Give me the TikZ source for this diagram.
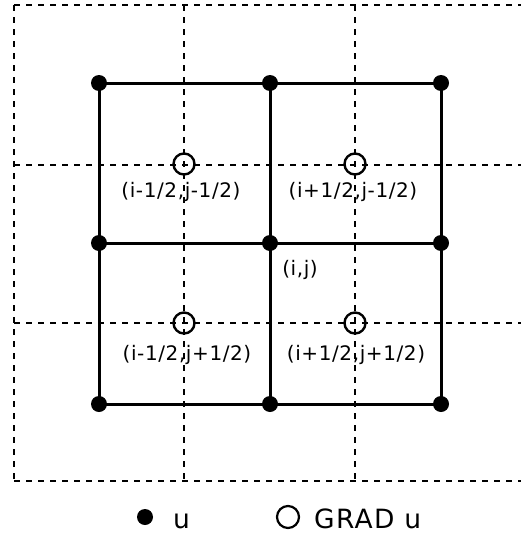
\documentclass[tikz,border=0pt]{standalone}
\usepackage{fontspec}
\newfontfamily\labfont[LetterSpace=3]{DejaVu Sans}
\newfontfamily\legfont[LetterSpace=5]{DejaVu Sans}
\begin{document}
\begin{tikzpicture}[x=1pt,y=-1pt,
  grid/.style={line width=2.4pt,dash pattern=on 6pt off 6pt},
  mesh/.style={line width=3pt},
  udot/.style={circle,fill=black,inner sep=0pt,minimum size=16pt},
  gdot/.style={circle,draw=black,line width=2.4pt,inner sep=0pt,minimum size=21pt},
  lab/.style={font=\labfont\fontsize{20}{24}\selectfont,inner sep=0pt},
  leg/.style={font=\legfont\fontsize{26.5}{30}\selectfont,inner sep=0pt,anchor=base west}]
\useasboundingbox (0,0) rectangle (521,538);
% dashed grid
\foreach \yy in {5,165,323,481} \draw[grid] (14,\yy) -- (521,\yy);
\foreach \xx in {14,184,355} \draw[grid] (\xx,5) -- (\xx,481);
% u nodes
\foreach \xx/\c in {99/a,270/b,441/c}
  \foreach \yy/\r in {83/1,243/2,404/3}
    \coordinate (\c\r) at (\xx,\yy);
\foreach \r in {1,2,3} \draw[mesh] (a\r) -- (b\r) -- (c\r);
\foreach \c in {a,b,c} \draw[mesh] (\c1) -- (\c2) -- (\c3);
\foreach \c in {a,b,c} \foreach \r in {1,2,3} \node[udot] (u\c\r) at (\c\r) {};
% GRAD u nodes
\node[gdot] (g11) at (184,164) {};
\node[gdot] (g21) at (355,164) {};
\node[gdot] (g12) at (184,323) {};
\node[gdot] (g22) at (355,323) {};
% labels
\node[lab] (l11) at (181,192) {(i-1/2,j-1/2)};
\node[lab] (l21) at (353,192) {(i+1/2,j-1/2)};
\node[lab] (l12) at (187,355) {(i-1/2,j+1/2)};
\node[lab] (l22) at (356,355) {(i+1/2,j+1/2)};
\node[lab] (lij) at (300,270) {(i,j)};
% legend
\node[udot] (ldot) at (145,517) {};
\node[leg] (lu) at (173,528) {u};
\node[gdot,minimum size=22pt,line width=2.2pt] (lcirc) at (288,517) {};
\node[leg] (lgrad) at (314,528) {GRAD u};
\end{tikzpicture}
\end{document}
